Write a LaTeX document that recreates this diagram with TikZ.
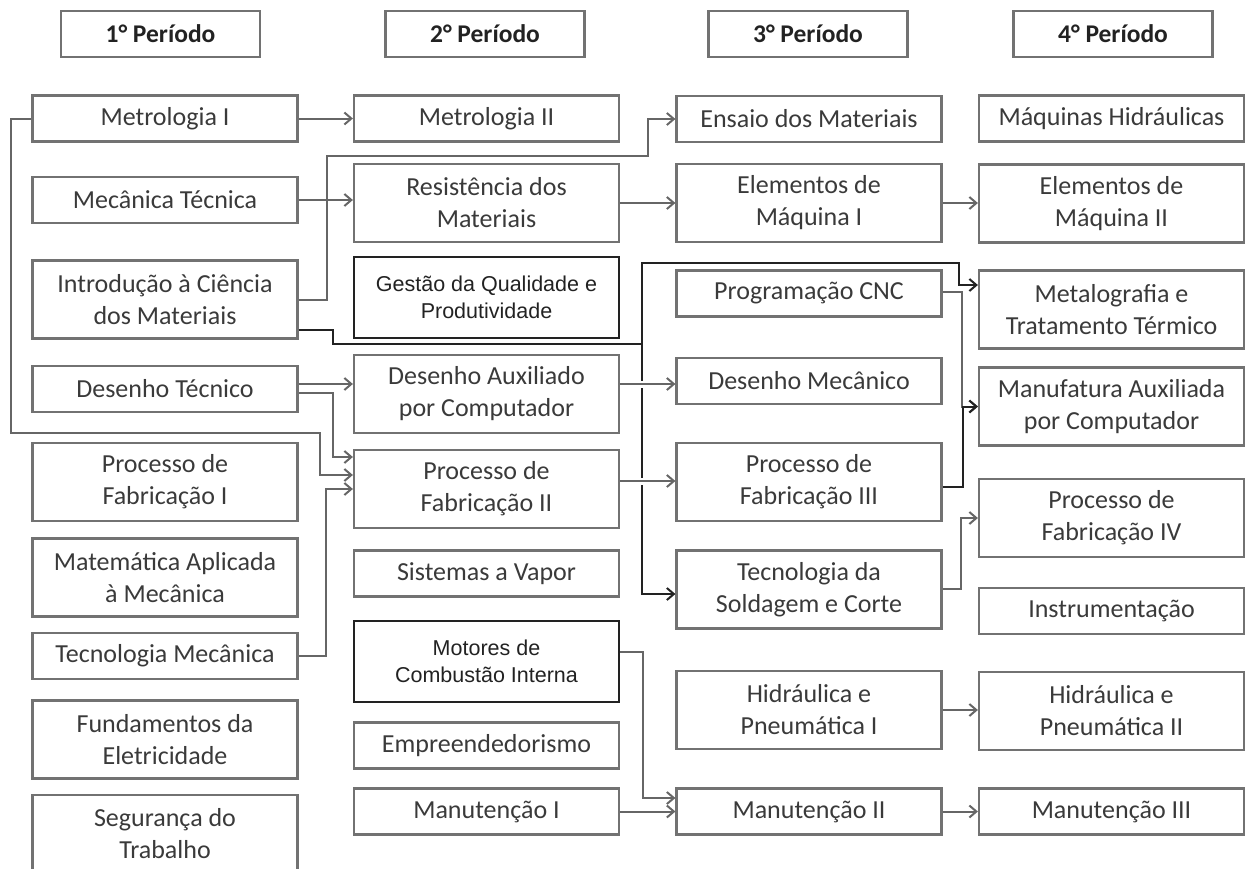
\documentclass[tikz,border=0pt]{standalone}
\usepackage{fontspec}
\setmainfont{Carlito}
\newfontfamily\arialfont{Liberation Sans}
\usetikzlibrary{arrows.meta}

\definecolor{bordacinza}{HTML}{727272}
\definecolor{linhacinza}{HTML}{666666}
\definecolor{textocinza}{HTML}{3A3A3A}
\definecolor{escuro}{HTML}{222222}

\tikzset{
	disciplina/.style={draw=bordacinza, line width=2.2, minimum width=265, inner sep=0pt, align=center, text=textocinza, font=\fontsize{26}{32}\selectfont},
	simples/.style={disciplina, minimum height=46},
	dupla/.style={disciplina, minimum height=78},
	destaque/.style={disciplina, draw=escuro, minimum height=81, text=escuro, font=\arialfont\fontsize{21.5}{27}\selectfont},
	periodo/.style={draw=bordacinza, line width=2.2, minimum width=199, minimum height=46, inner sep=0pt, text=escuro, font=\bfseries\fontsize{25.5}{30}\selectfont},
	seta/.style={draw=linhacinza, line width=2, -{Straight Barb[length=7,width=12]}},
	escura/.style={draw=escuro},
	salto/.style={preaction={draw=white, line width=7, -, shorten <=8, shorten >=8}},
}

\begin{document}
\begin{tikzpicture}
	\pgfsetxvec{\pgfpoint{1pt}{0pt}}
	\pgfsetyvec{\pgfpoint{0pt}{-1pt}}
	\useasboundingbox (0,0) rectangle (1245,868);

	% periodos
	\node[periodo] at (160.5,34) (p1) {1° Período};
	\node[periodo] at (485,34) (p2) {2° Período};
	\node[periodo] at (808,34) (p3) {3° Período};
	\node[periodo] at (1113,34) (p4) {4° Período};

	% 1o periodo
	\node[simples] at (165,118.5) (met1) {Metrologia I};
	\node[simples] at (165,200) (mec) {Mecânica Técnica};
	\node[dupla] at (165,299.5) (intro) {Introdução à Ciência\\dos Materiais};
	\node[simples] at (165,389) (destec) {Desenho Técnico};
	\node[dupla] at (165,482) (pf1) {Processo de\\Fabricação I};
	\node[dupla] at (165,577.5) (mat) {Matemática Aplicada\\à Mecânica};
	\node[simples] at (165,656) (tecmec) {Tecnologia Mecânica};
	\node[dupla] at (165,739.5) (fund) {Fundamentos da\\Eletricidade};
	\node[dupla] at (165,834) (seg) {Segurança do\\Trabalho};

	% 2o periodo
	\node[simples] at (486.5,118.5) (met2) {Metrologia II};
	\node[dupla] at (486.5,203) (resist) {Resistência dos\\Materiais};
	\node[destaque] at (486.5,297.5) (gestao) {Gestão da Qualidade e\\Produtividade};
	\node[dupla] at (486.5,394) (daux) {Desenho Auxiliado\\por Computador};
	\node[dupla] at (486.5,489) (pf2) {Processo de\\Fabricação II};
	\node[simples] at (486.5,573.5) (vapor) {Sistemas a Vapor};
	\node[destaque] at (486.5,661.5) (motores) {Motores de\\Combustão Interna};
	\node[simples] at (486.5,745.5) (empre) {Empreendedorismo};
	\node[simples] at (486.5,811.5) (man1) {Manutenção I};

	% 3o periodo
	\node[simples] at (809,119) (ensaio) {Ensaio dos Materiais};
	\node[dupla] at (809,203) (elem1) {Elementos de\\Máquina I};
	\node[simples] at (809,293.5) (cnc) {Programação CNC};
	\node[simples] at (809,381) (desmec) {Desenho Mecânico};
	\node[dupla] at (809,482) (pf3) {Processo de\\Fabricação III};
	\node[dupla] at (809,589.5) (solda) {Tecnologia da\\Soldagem e Corte};
	\node[dupla] at (809,710) (hid1) {Hidráulica e\\Pneumática I};
	\node[simples] at (809,811.5) (man2) {Manutenção II};

	% 4o periodo
	\node[simples] at (1111.5,118.5) (maqhid) {Máquinas Hidráulicas};
	\node[dupla] at (1111.5,203.5) (elem2) {Elementos de\\Máquina II};
	\node[dupla] at (1111.5,309.5) (metalog) {Metalografia e\\Tratamento Térmico};
	\node[dupla] at (1111.5,406.5) (manuf) {Manufatura Auxiliada\\por Computador};
	\node[dupla] at (1111.5,518) (pf4) {Processo de\\Fabricação IV};
	\node[simples] at (1111.5,611) (instr) {Instrumentação};
	\node[dupla] at (1111.5,711) (hid2) {Hidráulica e\\Pneumática II};
	\node[simples] at (1111.5,811.5) (man3) {Manutenção III};

	% pre-requisitos
	\draw[seta] (met1) -- (met2);
	\draw[seta] (mec.east) -- (mec.east -| resist.west);
	\draw[seta] (met1.west) -- ++(-20,0) |- (320,433) |- ([yshift=14]pf2.west);
	\draw[seta] ([yshift=5]destec.east) -- ([yshift=5]destec.east -| daux.west);
	\draw[seta] ([yshift=-4]destec.east) -- ++(34,0) |- ([yshift=32]pf2.west);
	\draw[seta] (tecmec.east) -- ++(27,0) |- (pf2.west);
	\draw[seta] (intro.east) -- ++(28,0) |- (648,156) |- (ensaio.west);
	\draw[seta] (resist) -- (elem1);
	\draw[seta] (elem1.east) -- (elem1.east -| elem2.west);
	\draw[seta] ([yshift=1.5]cnc.east) -- ++(19,0) |- (manuf.west);
	\draw[seta] ([yshift=0.5]solda.east) -- ++(18,0) |- (pf4.west);
	\draw[seta] ([yshift=9.5]motores.east) -- ++(23,0) |- ([yshift=13.5]man2.west);
	\draw[seta] (man1) -- (man2);
	\draw[seta] (hid1.east) -- (hid1.east -| hid2.west);
	\draw[seta] (man2) -- (man3);

	% linhas escuras
	\draw[seta,escura,-] ([yshift=-30]intro.east) -- ++(34,0) |- (642,344) coordinate (junta);
	\draw[seta,escura] (junta) |- (959,263) |- ([yshift=24.5]metalog.west);
	\draw[seta,escura] (junta) |- ([yshift=-4.5]solda.west);
	\draw[seta,escura] ([yshift=-5]pf3.east) -- ++(20,0) |- (manuf.west);

	% cruzamentos
	\draw[seta,salto] ([yshift=10]daux.east) -- ([yshift=10]daux.east -| desmec.west);
	\draw[seta,salto] ([yshift=8]pf2.east) -- ([yshift=8]pf2.east -| pf3.west);

\end{tikzpicture}
\end{document}
